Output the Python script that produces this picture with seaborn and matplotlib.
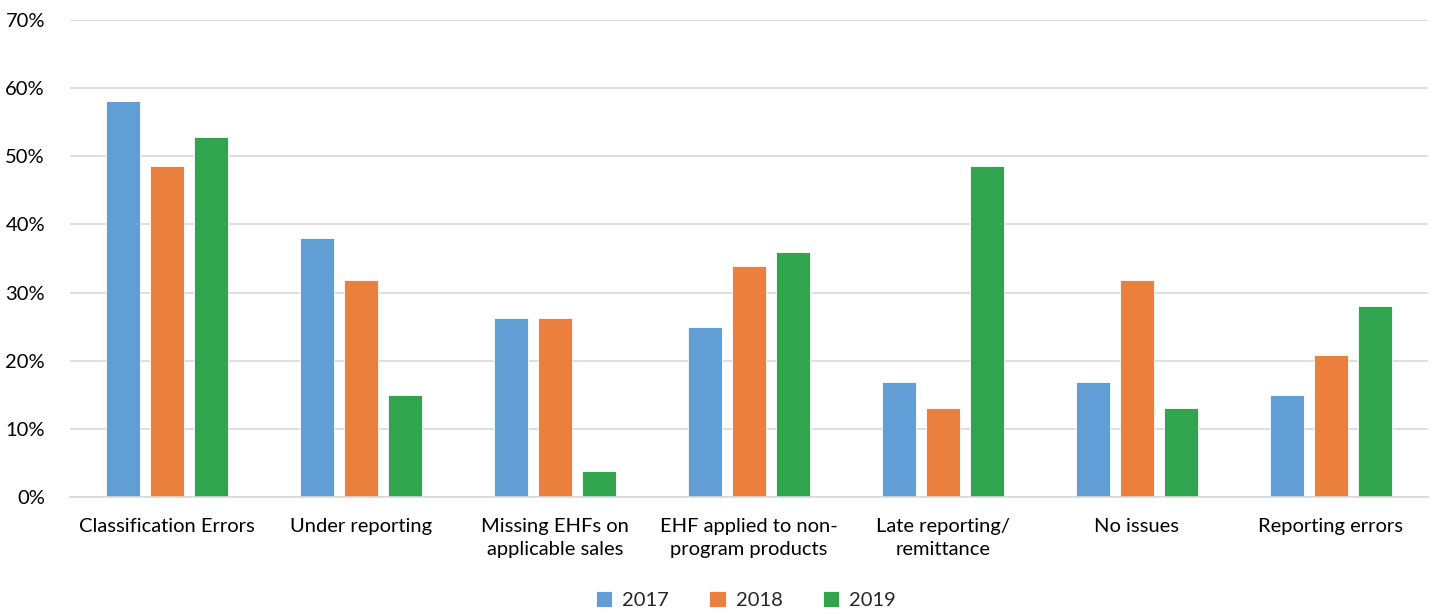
import pandas as pd
import matplotlib.pyplot as plt
import seaborn as sns
from matplotlib.ticker import PercentFormatter

# categories and values (percent)
categories = ['Classification Errors', 'Under reporting', 'Missing EHFs on\napplicable sales',
              'EHF applied to non-\nprogram products', 'Late reporting/\nremittance', 'No issues',
              'Reporting errors']
years = ['2017', '2018', '2019']
v2017 = [58.1, 38.0, 26.2, 25.0, 16.9, 16.9, 15.0]
v2018 = [48.6, 31.9, 26.2, 33.9, 13.1, 31.9, 20.8]
v2019 = [52.9, 15.0, 3.8, 35.9, 48.6, 13.1, 28.1]
colors = ['#619ED6', '#EB7F3E', '#31A44E']

df = pd.DataFrame({'cat': categories * 3,
                   'year': [y for y in years for _ in categories],
                   'val': v2017 + v2018 + v2019})

sns.set_style('white')
plt.rcParams['font.family'] = ['Lato', 'DejaVu Sans']

fig = plt.figure(figsize=(14.32, 6.13), dpi=100)
ax = fig.add_axes([70 / 1432, 1 - 497 / 613, 1358 / 1432, 477 / 613])

sns.barplot(data=df, x='cat', y='val', hue='year', palette=colors, width=0.68, gap=0.24,
            ax=ax, saturation=1, edgecolor='white', linewidth=0.6)

ax.set_ylim(0, 70)
ax.set_xlim(-0.5, 6.5)
ax.set_yticks(range(0, 71, 10))
ax.yaxis.set_major_formatter(PercentFormatter(decimals=0))
ax.grid(axis='y', color='#D9D9D9', linewidth=1.2)
ax.set_axisbelow(True)
for s in ['top', 'right', 'left']:
    ax.spines[s].set_visible(False)
ax.spines['bottom'].set_color('#D9D9D9')
ax.spines['bottom'].set_linewidth(1.2)
ax.tick_params(axis='both', length=0, labelsize=14.5, colors='black')
ax.tick_params(axis='x', pad=15)
ax.tick_params(axis='y', pad=18)
for t in ax.get_xticklabels():
    t.set_linespacing(1.45)
ax.set_xlabel('')
ax.set_ylabel('')

ax.legend(loc='upper center', bbox_to_anchor=(0.5 - 3 / 1358, -0.168), ncol=3, frameon=False,
          fontsize=14.5, handlelength=0.8, handleheight=0.8, columnspacing=2.0, handletextpad=0.5,
          borderaxespad=0.3)

fig.savefig('out.png', dpi=100)
